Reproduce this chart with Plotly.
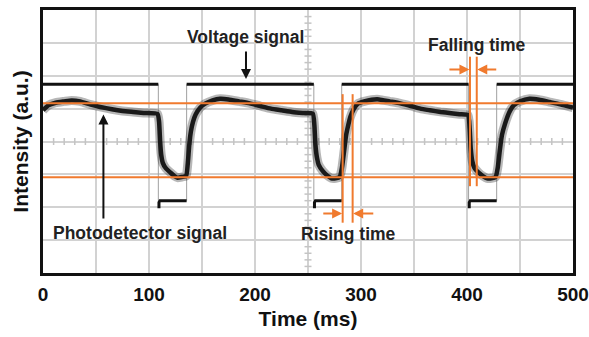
import plotly.graph_objects as go

# ---------------- data ----------------
# photodetector trace: time (ms) and intensity (a.u., 0-8 screen divisions)
pd_t = [0, 5, 12, 20, 27, 35, 45, 54, 65, 75, 85, 95, 108,
        109.5, 110.5, 111.5, 113, 116, 120, 124, 127, 131, 135,
        136.5, 138, 139.5, 141.5, 144, 148, 153, 160, 167, 175, 185, 195, 205, 215, 225, 235, 245, 254.5,
        256, 257, 258.5, 260, 264, 268, 272, 276, 280,
        282, 284, 286, 288, 290, 293, 297, 303, 310, 317, 327, 337, 347, 356, 365, 375, 385, 393, 401,
        402.5, 403.5, 405, 407, 411, 415, 419, 423, 427,
        429, 431, 433, 436, 440, 444, 450, 459, 468, 478, 488, 500]
pd_v = [4.95, 5.1, 5.18, 5.22, 5.25, 5.22, 5.12, 5.05, 4.98, 4.93, 4.9, 4.87, 4.84,
        4.6, 4.0, 3.6, 3.35, 3.18, 3.06, 2.95, 2.9, 2.92, 2.95,
        3.3, 3.9, 4.3, 4.6, 4.82, 5.02, 5.15, 5.25, 5.3, 5.28, 5.22, 5.16, 5.08, 5.0, 4.95, 4.9, 4.87, 4.85,
        4.5, 3.9, 3.5, 3.3, 3.1, 2.97, 2.88, 2.88, 2.93,
        3.2, 3.7, 4.2, 4.5, 4.75, 4.98, 5.15, 5.22, 5.27, 5.28, 5.22, 5.16, 5.08, 5.0, 4.95, 4.9, 4.86, 4.83, 4.8,
        4.4, 3.8, 3.4, 3.2, 3.05, 2.95, 2.88, 2.88, 2.92,
        3.2, 3.74, 4.2, 4.55, 4.9, 5.1, 5.22, 5.3, 5.27, 5.2, 5.13, 5.03]

# voltage signal: switching times and levels
v_fall_t = [108.8, 255.5, 401.5]
v_rise_t = [135.5, 281.8, 428.0]
v_high = 5.74
v_low = 2.2
v_hook = 1.97

# orange reference levels and time markers
ref_levels = [5.16, 2.91]
rise_marks_t = [282.7, 292.1]
rise_marks_y = [1.53, 5.44]
fall_marks_t = [402.8, 409.2]
fall_marks_y = [2.64, 6.58]

x_ticks = [0, 100, 200, 300, 400, 500]

ORANGE = "#F07A2E"
FONT = "Liberation Sans, Arial, sans-serif"

fig = go.Figure()

# center graticule minor ticks (oscilloscope style)
cx = [t for t in range(0, 501, 10) if t % 50 != 0]
fig.add_trace(go.Scatter(x=cx, y=[4] * len(cx), mode="markers",
                         marker=dict(symbol="line-ns", size=5, line=dict(color="#c4c4c4", width=1.5)),
                         hoverinfo="skip", showlegend=False))
cy = [i / 5 for i in range(0, 41) if i % 5 != 0]
fig.add_trace(go.Scatter(x=[250] * len(cy), y=cy, mode="markers",
                         marker=dict(symbol="line-ew", size=5, line=dict(color="#c4c4c4", width=1.5)),
                         hoverinfo="skip", showlegend=False))

# voltage signal: thin transition edges
for tf, tr in zip(v_fall_t, v_rise_t):
    fig.add_trace(go.Scatter(x=[tf, tf, None, tr, tr], y=[v_high, v_low, None, v_low, v_high],
                             mode="lines", line=dict(color="#a0a0a0", width=1),
                             hoverinfo="skip", showlegend=False))

# voltage signal: high and low plateaus
starts = [0] + v_rise_t
ends = v_fall_t + [500]
vx, vy = [], []
for s, e in zip(starts, ends):
    vx += [s, e, None]
    vy += [v_high, v_high, None]
for tf, tr in zip(v_fall_t, v_rise_t):
    vx += [tf + 0.6, tf + 0.6, tf + 1.5, tr, None]
    vy += [v_hook, v_low - 0.05, v_low, v_low, None]
fig.add_trace(go.Scatter(x=vx, y=vy, mode="lines", line=dict(color="#111111", width=3),
                         hoverinfo="skip", showlegend=False))

# photodetector signal (noisy band)
fig.add_trace(go.Scatter(x=pd_t, y=pd_v, mode="lines",
                         line=dict(color="rgba(50,50,50,0.35)", width=9, shape="spline", smoothing=0.5),
                         hoverinfo="skip", showlegend=False))
fig.add_trace(go.Scatter(x=pd_t, y=pd_v, mode="lines",
                         line=dict(color="#1a1a1a", width=4.5, shape="spline", smoothing=0.5),
                         hoverinfo="skip", showlegend=False))

# orange reference lines
for lv in ref_levels:
    fig.add_trace(go.Scatter(x=[0, 500], y=[lv, lv], mode="lines", line=dict(color=ORANGE, width=2),
                             hoverinfo="skip", showlegend=False))
for t in rise_marks_t:
    fig.add_trace(go.Scatter(x=[t, t], y=rise_marks_y, mode="lines", line=dict(color=ORANGE, width=2),
                             hoverinfo="skip", showlegend=False))
for t in fall_marks_t:
    fig.add_trace(go.Scatter(x=[t, t], y=fall_marks_y, mode="lines", line=dict(color=ORANGE, width=2),
                             hoverinfo="skip", showlegend=False))

annotations = []


def arrow(x, y, ax, ay, color, width=2):
    annotations.append(dict(x=x, y=y, ax=ax, ay=ay, xref="x", yref="y", axref="x", ayref="y",
                            text="", showarrow=True, arrowhead=2, arrowsize=1, arrowwidth=width,
                            arrowcolor=color, standoff=0, startstandoff=0))


def label(x, y, text):
    annotations.append(dict(x=x, y=y, xref="x", yref="y", text="<b>" + text + "</b>", showarrow=False,
                            font=dict(family=FONT, size=17.5, color="#222222"), xanchor="center", yanchor="middle"))


# orange time arrows
arrow(fall_marks_t[0] - 0.5, 6.19, 382, 6.19, ORANGE)
arrow(fall_marks_t[1] + 0.5, 6.19, 429, 6.19, ORANGE)
arrow(rise_marks_t[0] - 0.5, 1.81, 263, 1.81, ORANGE)
arrow(rise_marks_t[1] + 0.5, 1.81, 313, 1.81, ORANGE)

# black pointer arrows
arrow(191.5, 5.9, 191.5, 6.78, "#111111")
arrow(57, 4.82, 57, 1.61, "#111111")

label(190.6, 7.18, "Voltage signal")
label(91.5, 1.22, "Photodetector signal")
label(288.5, 1.19, "Rising time")
label(409.1, 6.93, "Falling time")

grid_x = list(range(0, 501, 50))
fig.update_layout(
    width=589, height=337,
    margin=dict(l=43, r=16, t=10, b=64, autoexpand=False),
    paper_bgcolor="white", plot_bgcolor="white",
    font=dict(family=FONT, color="#111111"),
    annotations=annotations,
    xaxis=dict(range=[0, 500], tickvals=grid_x, automargin=False,
               ticktext=["<b>%d</b>" % t if t in x_ticks else "" for t in grid_x],
               tickfont=dict(size=19, family=FONT, color="#111111"), ticklabelstandoff=2,
               showgrid=True, gridcolor="#d2d2d2", gridwidth=1.5, zeroline=False,
               showline=True, linecolor="#111111", linewidth=3, mirror=True, ticks="",
               title=dict(text="<b>Time (ms)</b>", font=dict(size=21, family=FONT, color="#111111"),
                          standoff=8)),
    yaxis=dict(range=[0, 8], dtick=1, showticklabels=False, automargin=False,
               showgrid=True, gridcolor="#d2d2d2", gridwidth=1.5, zeroline=False,
               showline=True, linecolor="#111111", linewidth=3, mirror=True, ticks="",
               title=dict(text="<b>Intensity (a.u.)</b>", font=dict(size=21, family=FONT, color="#111111"),
                          standoff=6)),
)

# remove the default page margin so the 589x337 figure fills the window exactly
fig.write_html("out.html", config={"displayModeBar": False},
               post_script="document.body.style.margin='0';document.body.style.overflow='hidden';")
